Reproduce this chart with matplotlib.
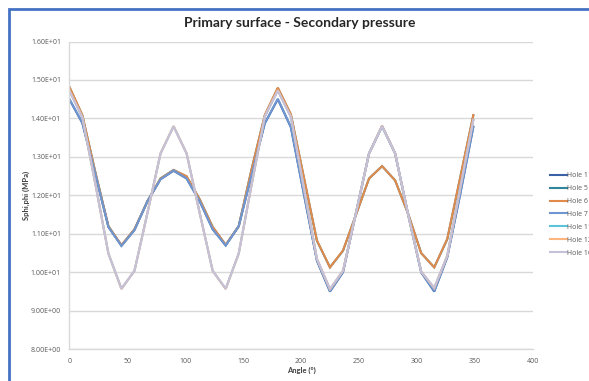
import matplotlib
matplotlib.use("Agg")
import matplotlib.pyplot as plt
from matplotlib.patches import Rectangle
from matplotlib.ticker import FuncFormatter, MultipleLocator

plt.rcParams['font.family'] = ['Lato', 'DejaVu Sans']

angles = [0, 11.25, 22.5, 33.75, 45, 56.25, 67.5, 78.75, 90, 101.25, 112.5, 123.75,
          135, 146.25, 157.5, 168.75, 180, 191.25, 202.5, 213.75, 225, 236.25, 247.5,
          258.75, 270, 281.25, 292.5, 303.75, 315, 326.25, 337.5, 348.75]

hole1 = [14.50, 13.88, 12.55, 11.18, 10.69, 11.10, 11.85, 12.42, 12.64, 12.44, 11.85, 11.12,
         10.70, 11.20, 12.55, 13.87, 14.50, 13.77, 12.03, 10.30, 9.50, 10.00, 11.55,
         13.09, 13.80, 13.09, 11.50, 10.00, 9.50, 10.39, 12.04, 13.78]
hole5 = [14.82, 14.08, 12.60, 11.20, 10.70, 11.12, 11.85, 12.44, 12.66, 12.49, 11.90, 11.18,
         10.71, 11.20, 12.70, 14.08, 14.79, 14.10, 12.46, 10.82, 10.13, 10.56, 11.50,
         12.44, 12.76, 12.39, 11.52, 10.50, 10.13, 10.86, 12.47, 14.08]
hole6 = [14.83, 14.09, 12.60, 11.20, 10.71, 11.12, 11.85, 12.44, 12.66, 12.50, 11.90, 11.18,
         10.72, 11.20, 12.70, 14.09, 14.80, 14.11, 12.47, 10.83, 10.13, 10.57, 11.50,
         12.44, 12.76, 12.39, 11.52, 10.50, 10.13, 10.87, 12.48, 14.09]
hole7 = [14.51, 13.89, 12.55, 11.18, 10.69, 11.10, 11.85, 12.42, 12.65, 12.44, 11.85, 11.12,
         10.70, 11.20, 12.55, 13.88, 14.51, 13.78, 12.04, 10.31, 9.51, 10.01, 11.55,
         13.09, 13.80, 13.09, 11.50, 10.01, 9.51, 10.40, 12.05, 13.79]
hole11 = [14.73, 14.03, 12.30, 10.49, 9.57, 10.04, 11.55, 13.09, 13.80, 13.09, 11.55, 10.04,
          9.57, 10.49, 12.30, 14.05, 14.73, 14.04, 12.20, 10.35, 9.56, 10.04, 11.55,
          13.09, 13.80, 13.09, 11.50, 10.02, 9.59, 10.43, 12.20, 13.96]
hole12 = [14.74, 14.04, 12.30, 10.49, 9.57, 10.04, 11.55, 13.09, 13.80, 13.09, 11.55, 10.04,
          9.57, 10.49, 12.30, 14.06, 14.74, 14.05, 12.20, 10.35, 9.56, 10.04, 11.55,
          13.09, 13.81, 13.09, 11.50, 10.02, 9.59, 10.43, 12.20, 13.97]
hole16 = [14.72, 14.03, 12.30, 10.49, 9.58, 10.04, 11.55, 13.09, 13.79, 13.09, 11.55, 10.04,
          9.58, 10.49, 12.30, 14.05, 14.72, 14.04, 12.20, 10.35, 9.57, 10.04, 11.55,
          13.09, 13.80, 13.09, 11.50, 10.02, 9.60, 10.43, 12.20, 13.96]

labels = ["Hole 1", "Hole 5", "Hole 6", "Hole 7", "Hole 11", "Hole 12", "Hole 16"]
series = [hole1, hole5, hole6, hole7, hole11, hole12, hole16]
colors = ["#3A60A5", "#31869B", "#E08A4C", "#6F96D0", "#5BC3DA", "#FDB57F", "#C6C0D9"]

W, H = 589, 381
fig = plt.figure(figsize=(W / 100, H / 100), dpi=100)
fig.patch.set_facecolor("white")

# chart frame (Word embedded chart border)
fig.patches.append(Rectangle((9 / W, -0.05), 1.2, 1 - 9 / H + 0.05, transform=fig.transFigure,
                             fill=False, edgecolor="#4472C4", linewidth=2.0, zorder=0))

left, right = 69.3 / W, 532.7 / W
bottom, top = 1 - 349.3 / H, 1 - 41.5 / H
ax = fig.add_axes([left, bottom, right - left, top - bottom])

for lab, vals, c in zip(labels, series, colors):
    ax.plot(angles, vals, color=c, linewidth=1.5, label=lab, solid_joinstyle="miter")

ax.set_xlim(0, 400)
ax.set_ylim(8, 16)
ax.xaxis.set_major_locator(MultipleLocator(50))
ax.yaxis.set_major_locator(MultipleLocator(1))
ax.yaxis.set_major_formatter(FuncFormatter(lambda v, p: "{:.2E}".format(v)))
ax.grid(axis="y", color="#D9D9D9", linewidth=1.0)
ax.set_axisbelow(True)
for s in ["top", "right"]:
    ax.spines[s].set_visible(False)
for s in ["left", "bottom"]:
    ax.spines[s].set_color("#D9D9D9")
    ax.spines[s].set_linewidth(1.0)
ax.tick_params(length=0, labelsize=5, colors="#595959", pad=6)
for lbl in ax.get_xticklabels() + ax.get_yticklabels():
    lbl.set_fontfamily(["Open Sans", "DejaVu Sans"])

ax.set_xlabel("Angle (°)", fontsize=5.5, fontweight="bold", color="#404040", labelpad=1.5)
ax.set_ylabel("Sphi,phi (MPa)", fontsize=5.5, fontweight="bold", color="#404040", labelpad=0.5)

fig.text(300 / W, 1 - 23 / H, "Primary surface - Secondary pressure", ha="center", va="center",
         fontsize=10, fontweight="bold", color="#262626")

fig.legend(loc="upper left", bbox_to_anchor=(550 / W, 1 - 172 / H), frameon=False,
           prop={"family": ["Open Sans", "DejaVu Sans"], "size": 5},
           handlelength=2.4, handletextpad=0.1, labelspacing=0.86,
           borderpad=0, borderaxespad=0, labelcolor="#595959")

fig.savefig("out.png", dpi=100, facecolor="white")
